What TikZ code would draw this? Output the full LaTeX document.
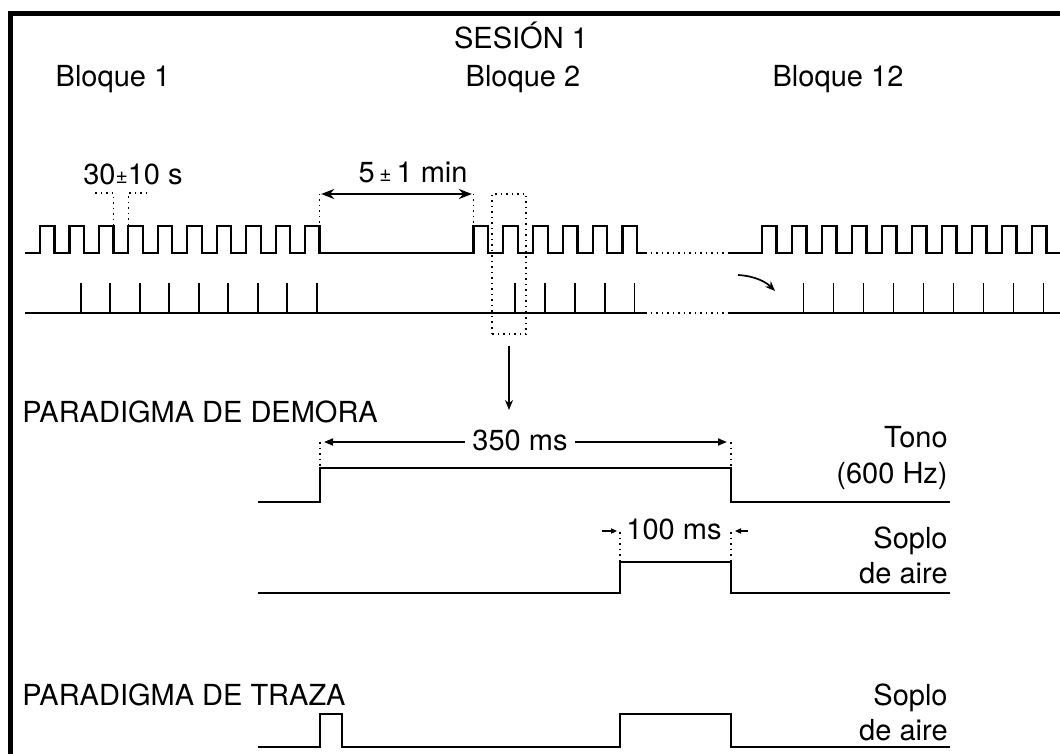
\documentclass[tikz,border=0pt]{standalone}
\usepackage{fontspec}
\setmainfont{TeX Gyre Heros}
\usetikzlibrary{arrows.meta, calc}

\newcommand{\smallpm}{{\fontsize{10.5}{10.5}\selectfont\raisebox{0.6pt}{±}}}

\begin{document}
\begin{tikzpicture}[x=0.5pt, y=-0.5pt,
    txt/.style={inner sep=0pt, font=\fontsize{14.5}{16}\selectfont},
    trace/.style={line width=1.1pt, line join=miter},
    spike/.style={line width=0.95pt},
    guide/.style={dotted, line width=0.75pt},
    bigdim/.style={{Stealth[length=6.5pt,width=5pt]}-{Stealth[length=6.5pt,width=5pt]}, line width=1.1pt},
    dimline/.style={-{Triangle[length=4.5pt,width=3.5pt]}, line width=0.85pt},
    nudge/.style={-{Triangle[length=3pt,width=2.6pt]}, line width=0.75pt},
    arrow/.style={-{Stealth[length=5pt,width=4pt]}, line width=0.85pt}
]
\useasboundingbox (0,0) rectangle (1060,754);

% Frame
\draw[line width=2.5pt, line join=miter] (10,754) -- (10,13.5) -- (1060,13.5);

% Headings
\node[txt, anchor=base] (ses) at (521,49) {SESIÓN 1};
\node[txt, anchor=base] (b1) at (113,87) {Bloque 1};
\node[txt, anchor=base] (b2) at (523,87) {Bloque 2};
\node[txt, anchor=base] (b12) at (838,87) {Bloque 12};

% Tone pulses (blocks 1, 2 and 12)
\draw[trace] (25,253)
    foreach \k in {0,...,9} { -- ({40+29.45*\k},253) -- ({40+29.45*\k},226) -- ({54.5+29.45*\k},226) -- ({54.5+29.45*\k},253) }
    foreach \k in {0,...,5} { -- ({473.5+29.8*\k},253) -- ({473.5+29.8*\k},226) -- ({488+29.8*\k},226) -- ({488+29.8*\k},253) }
    -- (645,253);
\draw[guide] (645,253) -- (728,253);
\draw[trace] (728,253)
    foreach \k in {0,...,9} { -- ({762+30*\k},253) -- ({762+30*\k},226) -- ({776.5+30*\k},226) -- ({776.5+30*\k},253) }
    -- (1060,253);

% Air puffs
\draw[trace] (25,313) -- (645,313);
\draw[guide] (645,313) -- (728,313);
\draw[trace] (728,313) -- (1060,313);
\foreach \k in {1,...,9} \draw[spike] ({51.5+29.45*\k},313) -- ++(0,-30);
\foreach \k in {1,...,5} \draw[spike] ({485.5+29.8*\k},313) -- ++(0,-30);
\foreach \k in {1,...,9} \draw[spike] ({773.5+30*\k},313) -- ++(0,-30);

% Intervals
\node[txt, anchor=base] (iti) at (133,185) {30\smallpm10 s};
\draw[guide] (95,193) -- (113.4,193) -- (113.4,226);
\draw[guide] (147,193) -- (128.4,193) -- (128.4,226);

\node[txt, anchor=base] (pausa) at (413,183) {5\,\smallpm\,1 min};
\coordinate (p1) at (319.6,194);
\coordinate (p2) at (473.5,194);
\draw[guide] (p1) -- (319.6,226);
\draw[guide] (p2) -- (473.5,226);
\draw[bigdim] ([xshift=0.8pt]p1) -- ([xshift=-0.8pt]p2);

% Zoom on one trial
\node[draw, dotted, line width=0.75pt, minimum width=17pt, minimum height=70pt, inner sep=0pt] (zoom) at (509,264) {};
\coordinate (zoomtip) at (509,410);
\draw[arrow] ([yshift=-5.5pt]zoom.south) -- (zoomtip);

% Curved arrow in block 12
\coordinate (c0) at (738,275);
\coordinate (c1) at (775,291);
\draw[arrow] (c0) .. controls (755,276) and (766,282) .. (c1);

% Delay paradigm
\node[txt, anchor=base west] (dem) at (22,422) {PARADIGMA DE DEMORA};
\draw[trace] (258,502) -- (320,502) -- (320,468) -- (731,468) -- (731,502) -- (950,502);
\draw[guide] (320,442) -- (320,468);
\draw[guide] (731,442) -- (731,468);
\node[txt, anchor=base] (t350) at (520,450) {350 ms};
\coordinate (a350l) at (324,442);
\coordinate (a350r) at (727,442);
\draw[dimline, shorten <=3.5pt] (a350l -| t350.west) -- (a350l);
\draw[dimline, shorten <=3.5pt] (a350r -| t350.east) -- (a350r);
\node[txt, anchor=base east] (tono) at (948,447) {Tono};
\node[txt, anchor=base east] (hz) at (948,483) {(600 Hz)};

\draw[trace] (258,593) -- (620,593) -- (620,562) -- (731,562) -- (731,593) -- (950,593);
\draw[guide] (620,532) -- (620,562);
\draw[guide] (731,532) -- (731,562);
\node[txt, anchor=base] (t100) at (674,539) {100 ms};
\coordinate (a100l) at (617,531);
\coordinate (a100r) at (735,531);
\draw[nudge] ($(a100l)+(-15,0)$) -- (a100l);
\draw[nudge] ($(a100r)+(13,0)$) -- (a100r);
\node[txt, anchor=base east] (soplo1) at (948,548) {Soplo};
\node[txt, anchor=base east] (aire1) at (948,583) {de aire};

% Trace paradigm
\node[txt, anchor=base west] (tra) at (22,705) {PARADIGMA DE TRAZA};
\draw[trace] (258,747) -- (320,747) -- (320,714) -- (342,714) -- (342,747) -- (620,747) -- (620,714) -- (731,714) -- (731,747) -- (950,747);
\node[txt, anchor=base east] (soplo2) at (948,705) {Soplo};
\node[txt, anchor=base east] (aire2) at (948,740) {de aire};

\end{tikzpicture}
\end{document}
